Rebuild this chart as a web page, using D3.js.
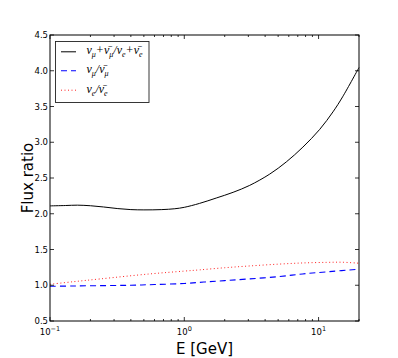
<!DOCTYPE html>
<html><head><meta charset="utf-8">
<script src="https://cdn.jsdelivr.net/npm/d3@7"></script>
<style>body{margin:0;background:#fff}svg{display:block}</style>
</head><body>
<script>
const energies_total = [0.1,0.13,0.16,0.2,0.25,0.32,0.4,0.5,0.68,0.85,1.0,1.3,1.73,2.31,3.07,4.33,5.75,7.64,10.2,12.8,15.1,20];
const ratio_total    = [2.11,2.115,2.12,2.112,2.095,2.072,2.058,2.054,2.058,2.07,2.09,2.145,2.22,2.30,2.397,2.555,2.725,2.932,3.18,3.425,3.635,4.045];
const energies_mu = [0.1,0.15,0.25,0.4,0.6,1.0,1.4,2,3,5,7.6,12,20];
const ratio_mu    = [0.985,0.99,0.995,1.0,1.01,1.025,1.045,1.065,1.088,1.12,1.158,1.19,1.225];
const energies_e = [0.1,0.15,0.235,0.55,1.0,1.3,2.0,3.07,5.0,7.64,11.5,15,20];
const ratio_e    = [1.014,1.05,1.088,1.158,1.198,1.215,1.245,1.27,1.295,1.312,1.32,1.322,1.308];
const yTicks = [0.5,1.0,1.5,2.0,2.5,3.0,3.5,4.0,4.5];
const xMajor = [0.1,1,10];
const xMajorExp = ["\u22121","0","1"];
const xMinor = [0.2,0.3,0.4,0.5,0.6,0.7,0.8,0.9,2,3,4,5,6,7,8,9,20];

const W=398,H=358;
const L=50,R=359,T=35,B=321;
const svg=d3.select("body").append("svg").attr("width",W).attr("height",H);
const x=d3.scaleLog().domain([0.1,20]).range([L,R]);
const y=d3.scaleLinear().domain([0.5,4.5]).range([B,T]);

const line=d3.line().x(d=>x(d[0])).y(d=>y(d[1])).curve(d3.curveCatmullRom.alpha(0.5));
const g=svg.append("g");
g.append("path").datum(d3.zip(energies_e,ratio_e)).attr("d",line)
 .attr("fill","none").attr("stroke","#ff2020").attr("stroke-width",1).attr("stroke-dasharray","1,2.5");
g.append("path").datum(d3.zip(energies_mu,ratio_mu)).attr("d",line)
 .attr("fill","none").attr("stroke","#0000ff").attr("stroke-width",1.1).attr("stroke-dasharray","6,4");
g.append("path").datum(d3.zip(energies_total,ratio_total)).attr("d",line)
 .attr("fill","none").attr("stroke","#000").attr("stroke-width",1);

// ticks
const tk=svg.append("g").attr("stroke","#000").attr("stroke-width",0.8);
yTicks.forEach(v=>{
  tk.append("line").attr("x1",L).attr("x2",L+4).attr("y1",y(v)).attr("y2",y(v));
  tk.append("line").attr("x1",R).attr("x2",R-4).attr("y1",y(v)).attr("y2",y(v));
});
xMajor.forEach(v=>{
  tk.append("line").attr("x1",x(v)).attr("x2",x(v)).attr("y1",B).attr("y2",B-4);
  tk.append("line").attr("x1",x(v)).attr("x2",x(v)).attr("y1",T).attr("y2",T+4);
});
xMinor.forEach(v=>{
  tk.append("line").attr("x1",x(v)).attr("x2",x(v)).attr("y1",B).attr("y2",B-2);
  tk.append("line").attr("x1",x(v)).attr("x2",x(v)).attr("y1",T).attr("y2",T+2);
});
svg.append("rect").attr("x",L).attr("y",T).attr("width",R-L).attr("height",B-T)
 .attr("fill","none").attr("stroke","#000").attr("stroke-width",1);

const font="DejaVu Sans";
svg.append("g").selectAll("text").data(yTicks).join("text")
 .attr("x",L-2).attr("y",d=>y(d)+3).attr("text-anchor","end")
 .attr("font-family",font).attr("font-size",8.5).text(d=>d.toFixed(1));
xMajor.forEach((v,i)=>{
  const t=svg.append("text").attr("x",x(v)).attr("y",335).attr("text-anchor","middle")
   .attr("font-family",font).attr("font-size",8.5);
  t.append("tspan").text("10");
  t.append("tspan").attr("dy",-4).attr("font-size",6.5).text(xMajorExp[i]);
});
svg.append("text").attr("x",(L+R)/2).attr("y",354).attr("text-anchor","middle")
 .attr("font-family",font).attr("font-size",15).text("E [GeV]");
svg.append("text").attr("transform",`translate(33,${(T+B)/2}) rotate(-90)`).attr("text-anchor","middle")
 .attr("font-family",font).attr("font-size",15).text("Flux ratio");

// legend
const lg=svg.append("g");
lg.append("rect").attr("x",55.5).attr("y",41.5).attr("width",93.5).attr("height",61)
 .attr("fill","#fff").attr("stroke","#222").attr("stroke-width",0.9);
const items=[{c:"#000",d:null,w:1},{c:"#0000ff",d:"6,4",w:1.1},{c:"#ff2020",d:"1,2.5",w:1}];
const ly=[51.8,70.7,90.2];
items.forEach((it,i)=>{
  lg.append("line").attr("x1",61).attr("x2",76).attr("y1",ly[i]).attr("y2",ly[i])
   .attr("stroke",it.c).attr("stroke-width",it.w).attr("stroke-dasharray",it.d);
});
function mt(t,parts){
  let down=false;
  parts.forEach(p=>{
    const s=t.append("tspan").text(p.t);
    if(p.sub){ s.attr("dy",down?0:3).attr("font-size",8); down=true; }
    else { if(down){ s.attr("dy",-3); down=false; } }
  });
}
const tf="Liberation Serif";
const lt=[
 [{t:"ν"},{t:"μ",sub:1},{t:"+"},{t:"ν̄"},{t:"μ",sub:1},{t:"/ν"},{t:"e",sub:1},{t:"+"},{t:"ν̄"},{t:"e",sub:1}],
 [{t:"ν"},{t:"μ",sub:1},{t:"/"},{t:"ν̄"},{t:"μ",sub:1}],
 [{t:"ν"},{t:"e",sub:1},{t:"/"},{t:"ν̄"},{t:"e",sub:1}]
];
lt.forEach((p,i)=>{
  const t=lg.append("text").attr("x",86.5).attr("y",ly[i]+2.5).attr("font-family",tf)
   .attr("font-style","italic").attr("font-size",12);
  mt(t,p);
});
</script>
</body></html>
